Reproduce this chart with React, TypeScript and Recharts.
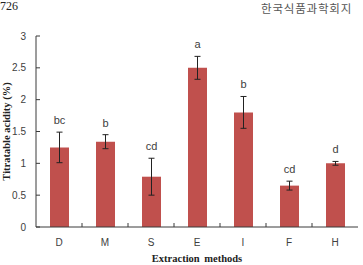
import React from "react";
import { BarChart, Bar, XAxis, YAxis, ErrorBar, LabelList, Label } from "recharts";

const methods = ["D", "M", "S", "E", "I", "F", "H"];
const acidity = [1.25, 1.34, 0.79, 2.5, 1.8, 0.65, 1.0];
const acidityErr = [0.24, 0.11, 0.29, 0.18, 0.25, 0.07, 0.03];
const groups = ["bc", "b", "cd", "a", "b", "cd", "d"];
const yTicks = [0, 0.5, 1, 1.5, 2, 2.5, 3];

const data = methods.map((m, i) => ({
  method: m,
  acidity: acidity[i],
  err: acidityErr[i],
  group: groups[i],
}));

const W = 363;
const H = 265;
const MARGIN = { top: 36, right: 5, left: 0, bottom: 0 };
const Y_AXIS_W = 36;
const X_AXIS_H = 38;
const BAND = (W - MARGIN.left - MARGIN.right - Y_AXIS_W) / methods.length;

const AXIS = "#3a3a3a";
const TEXT = "#404040";
const BAR = "#C0504D";
const SANS = "'Liberation Sans', Arial, sans-serif";
const SERIF = "'Liberation Serif', 'Times New Roman', serif";

// x ticks: label under the band, small inward mark on the left band edge
const XTick = (props: any) => {
  const { x, y, payload, index } = props;
  return (
    <g>
      {index > 0 && (
        <line x1={x - BAND / 2} x2={x - BAND / 2} y1={y} y2={y - 4} stroke={AXIS} />
      )}
      <text x={x} y={y + 19} textAnchor="middle" fontSize={10} fontFamily={SANS} fill={TEXT}>
        {payload.value}
      </text>
    </g>
  );
};

// y ticks: inward mark, label to the left
const YTick = (props: any) => {
  const { x, y, payload } = props;
  return (
    <g>
      <line x1={x} x2={x + 4} y1={y} y2={y} stroke={AXIS} />
      <text x={x - 10} y={y + 3.5} textAnchor="end" fontSize={10} fontFamily={SANS} fill={TEXT}>
        {payload.value}
      </text>
    </g>
  );
};

// significance letter sitting above the error bar
const GroupLabel = (props: any) => {
  const { x, y, width, height, index } = props;
  const d = data[index];
  const perUnit = height / d.acidity;
  const errTop = y - d.err * perUnit;
  return (
    <text
      x={x + width / 2}
      y={errTop - 8}
      textAnchor="middle"
      fontSize={11}
      fontFamily={SANS}
      fill={TEXT}
    >
      {d.group}
    </text>
  );
};

export default function App() {
  return (
    <div style={{ position: "absolute", left: 0, top: 0, width: W, height: H, background: "#fff" }}>
      <span
        style={{
          position: "absolute",
          left: 0,
          top: 0,
          fontFamily: SERIF,
          fontSize: 12,
          lineHeight: "13px",
          color: "#222",
        }}
      >
        726
      </span>
      <span
        style={{
          position: "absolute",
          left: 261,
          top: 0,
          fontFamily: "'Noto Sans CJK KR', sans-serif",
          fontSize: 11.5,
          lineHeight: "normal",
          letterSpacing: 0.8,
          color: "#555",
          whiteSpace: "nowrap",
        }}
      >
        한국식품과학회지
      </span>
      <BarChart width={W} height={H} data={data} margin={MARGIN}>
        <XAxis
          dataKey="method"
          height={X_AXIS_H}
          stroke={AXIS}
          tickLine={false}
          tickSize={0}
          tickMargin={0}
          tick={<XTick />}
          interval={0}
        >
          <Label
            content={(p: any) => {
              const vb = p.viewBox;
              return (
                <text
                  x={vb.x + vb.width / 2}
                  y={vb.y + 35}
                  textAnchor="middle"
                  fontSize={10.5}
                  fontWeight="bold"
                  fontFamily={SERIF}
                  wordSpacing={2}
                  fill="#222"
                >
                  Extraction methods
                </text>
              );
            }}
          />
        </XAxis>
        <XAxis xAxisId="top" dataKey="method" orientation="top" height={0} stroke={AXIS} tick={false} tickLine={false} />
        <YAxis
          width={Y_AXIS_W}
          domain={[0, 3]}
          ticks={yTicks}
          stroke={AXIS}
          tickLine={false}
          tickSize={0}
          tickMargin={0}
          tick={<YTick />}
          interval={0}
        >
          <Label
            content={(p: any) => {
              const vb = p.viewBox;
              const cy = vb.y + vb.height / 2;
              return (
                <text
                  x={6}
                  y={cy}
                  transform={`rotate(-90 6 ${cy})`}
                  textAnchor="middle"
                  dominantBaseline="central"
                  fontSize={10.5}
                  fontWeight="bold"
                  fontFamily={SERIF}
                  fill="#222"
                >
                  Titratable acidity (%)
                </text>
              );
            }}
          />
        </YAxis>
        <YAxis yAxisId="right" orientation="right" width={0} stroke={AXIS} tick={false} tickLine={false} />
        <Bar dataKey="acidity" fill={BAR} barSize={19} isAnimationActive={false}>
          <ErrorBar dataKey="err" width={3} stroke="#222" strokeWidth={1} isAnimationActive={false} />
          <LabelList dataKey="group" content={<GroupLabel />} />
        </Bar>
      </BarChart>
    </div>
  );
}
